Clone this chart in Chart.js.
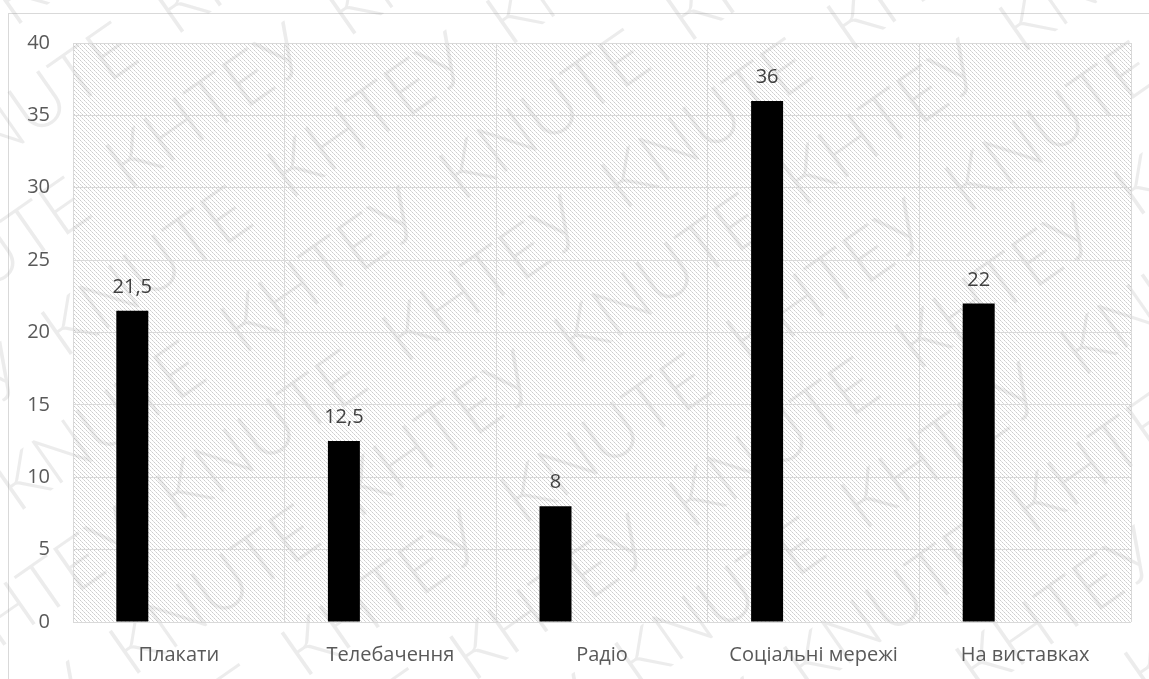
<!DOCTYPE html>
<html>
<head>
<meta charset="utf-8">
<script src="https://cdn.jsdelivr.net/npm/chart.js@4/dist/chart.umd.min.js"></script>
<style>
	html, body { margin: 0; padding: 0; background: #fff; }
	#wrap { width: 1149px; height: 679px; position: relative; }
</style>
</head>
<body>
<div id="wrap"><canvas id="myChart" width="1149" height="679"></canvas></div>
<script>
const categories = ["Плакати", "Телебачення", "Радіо", "Соціальні мережі", "На виставках"]
const values = [21.5, 12.5, 8, 36, 22]
const yTicks = [0, 5, 10, 15, 20, 25, 30, 35, 40]

const watermarkWords = ["KNUTE", "КНТЕУ"]

function hatchPattern(ctx) {
	const c = document.createElement("canvas")
	c.width = 4
	c.height = 4
	const p = c.getContext("2d")
	p.fillStyle = "#ffffff"
	p.fillRect(0, 0, 4, 4)
	for (let i = 0; i < 4; i++) {
		p.fillStyle = i % 2 ? "#dedede" : "#cdcdcd"
		p.fillRect(i, i, 1, 1)
	}
	return ctx.createPattern(c, "repeat")
}

// frame, hatch fill and watermark
const backdrop = {
	id: "backdrop",
	beforeDraw(chart) {
		const ctx = chart.ctx
		const a = chart.chartArea
		ctx.save()
		ctx.fillStyle = "#fff"
		ctx.fillRect(0, 0, chart.width, chart.height)
		ctx.strokeStyle = "#d9d9d9"
		ctx.lineWidth = 1
		ctx.strokeRect(8.5, 13.5, chart.width + 20, chart.height + 20)
		ctx.fillStyle = hatchPattern(ctx)
		ctx.fillRect(a.left, a.top, a.right - a.left, a.bottom - a.top)

		// watermark
		ctx.translate(chart.width / 2, chart.height / 2)
		ctx.rotate(-35 * Math.PI / 180)
		ctx.font = "300 72px Lato"
		ctx.fillStyle = "rgba(150, 150, 150, 0.18)"
		ctx.textBaseline = "middle"
		for (let row = -7; row <= 7; row++) {
			let x = -1100 + (row % 2) * 140
			let k = row
			while (x < 1100) {
				const w = watermarkWords[Math.abs(k) % 2]
				ctx.fillText(w, x, row * 100)
				x += ctx.measureText(w).width + 40
				k++
			}
		}
		ctx.restore()
	}
}

// value labels above bars
const valueLabels = {
	id: "valueLabels",
	afterDatasetsDraw(chart) {
		const ctx = chart.ctx
		const meta = chart.getDatasetMeta(0)
		ctx.save()
		ctx.font = "20px 'Open Sans'"
		ctx.fillStyle = "#404040"
		ctx.textAlign = "center"
		ctx.textBaseline = "alphabetic"
		meta.data.forEach((bar, i) => {
			const text = String(values[i]).replace(".", ",")
			ctx.fillText(text, bar.x, bar.y - 18)
		})
		ctx.restore()
	}
}

new Chart("myChart", {
	type: "bar",
	data: {
		labels: categories,
		datasets: [
			{
				label: "Значення",
				data: values,
				backgroundColor: "#000000",
				barPercentage: 0.344,
				categoryPercentage: 0.879
			},
			{
				label: "",
				data: [],
				backgroundColor: "#000000",
				barPercentage: 0.344,
				categoryPercentage: 0.879
			}
		]
	},
	options: {
		responsive: false,
		animation: false,
		layout: {
			padding: { top: 43, right: 18, left: 0, bottom: 0 }
		},
		plugins: {
			legend: { display: false },
			tooltip: { enabled: false }
		},
		scales: {
			x: {
				grid: { color: "#d9d9d9", lineWidth: 1, drawTicks: false },
				border: { display: false },
				ticks: {
					color: "#595959",
					font: { family: "'Open Sans'", size: 20 },
					padding: 21,
					maxRotation: 0
				},
				afterFit(scale) { scale.height = 57 }
			},
			y: {
				min: 0,
				max: 40,
				afterBuildTicks(scale) {
					scale.ticks = yTicks.map(v => ({ value: v }))
				},
				grid: { color: "#d9d9d9", lineWidth: 1, drawTicks: false },
				border: { display: false },
				ticks: {
					color: "#595959",
					font: { family: "'Open Sans'", size: 20 },
					padding: 23
				},
				afterFit(scale) { scale.width = 73 }
			}
		}
	},
	plugins: [backdrop, valueLabels]
})
</script>
</body>
</html>
